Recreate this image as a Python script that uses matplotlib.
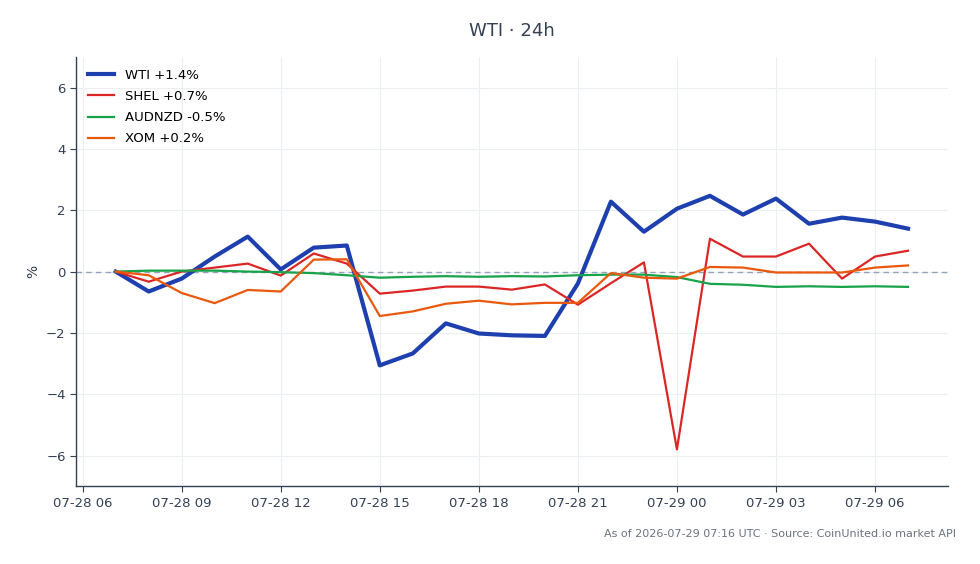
import matplotlib
matplotlib.use("Agg")
import matplotlib.pyplot as plt
import matplotlib.dates as mdates
import numpy as np
import pandas as pd

times = pd.date_range("2026-07-28 07:00", "2026-07-29 07:00", freq="h")

wti = [0.0, -0.65, -0.23, 0.49, 1.14, 0.07, 0.78, 0.85, -3.06, -2.67, -1.69, -2.02, -2.08,
       -2.10, -0.39, 2.28, 1.30, 2.05, 2.47, 1.86, 2.38, 1.56, 1.76, 1.63, 1.40]
shel = [0.0, -0.33, 0.0, 0.13, 0.26, -0.13, 0.59, 0.26, -0.72, -0.62, -0.49, -0.49, -0.59,
        -0.42, -1.08, -0.38, 0.30, -5.80, 1.07, 0.49, 0.49, 0.91, -0.23, 0.49, 0.68]
audnzd = [0.0, 0.03, 0.03, 0.03, 0.0, -0.02, -0.05, -0.12, -0.20, -0.17, -0.15, -0.17, -0.15,
          -0.16, -0.12, -0.10, -0.10, -0.18, -0.40, -0.43, -0.50, -0.48, -0.50, -0.48, -0.50]
xom = [0.0, -0.12, -0.70, -1.03, -0.60, -0.65, 0.39, 0.40, -1.45, -1.30, -1.05, -0.95, -1.07,
       -1.02, -1.02, -0.05, -0.20, -0.23, 0.15, 0.13, -0.03, -0.03, -0.03, 0.13, 0.20]

series = [
    ("WTI +1.4%", wti, "#1e40af", 3.0),
    ("SHEL +0.7%", shel, "#dc2626", 1.6),
    ("AUDNZD -0.5%", audnzd, "#16a34a", 1.6),
    ("XOM +0.2%", xom, "#ea580c", 1.6),
]

fig = plt.figure(figsize=(9.8, 5.64), dpi=100)
ax = fig.add_axes([0.0776, 0.138, 0.8894, 0.761])

ax.axhline(0, color="#94a3b8", lw=1, ls=(0, (4, 3)), zorder=1)
for label, vals, color, lw in series:
    ax.plot(times, vals, color=color, lw=lw, label=label, zorder=3)

ax.set_ylim(-7, 7)
ax.set_yticks([-6, -4, -2, 0, 2, 4, 6])
ax.set_yticklabels(["\u22126", "\u22124", "\u22122", "0", "2", "4", "6"])
ax.xaxis.set_major_locator(mdates.HourLocator(byhour=[0, 3, 6, 9, 12, 15, 18, 21]))
ax.xaxis.set_major_formatter(mdates.DateFormatter("%m-%d %H"))

ax.grid(True, color="#eceef2", lw=0.8)
ax.set_axisbelow(True)
for s in ["top", "right"]:
    ax.spines[s].set_visible(False)
for s in ["left", "bottom"]:
    ax.spines[s].set_color("#334155")
    ax.spines[s].set_linewidth(1.0)
ax.tick_params(colors="#334155", labelsize=9.5, length=4)
ax.tick_params(axis="both", labelcolor="#334155")

ax.set_ylabel("%", color="#334155", fontsize=10)
ax.set_title("WTI \u00b7 24h", color="#334155", fontsize=13, pad=15)

leg = ax.legend(loc="upper left", frameon=False, fontsize=9.5, handlelength=2.0,
                handletextpad=0.8, labelspacing=0.62)

fig.text(0.976, 0.054, "As of 2026-07-29 07:16 UTC \u00b7 Source: CoinUnited.io market API",
         ha="right", va="center", fontsize=8, color="#6b7280")

fig.savefig("out.png", dpi=100)
